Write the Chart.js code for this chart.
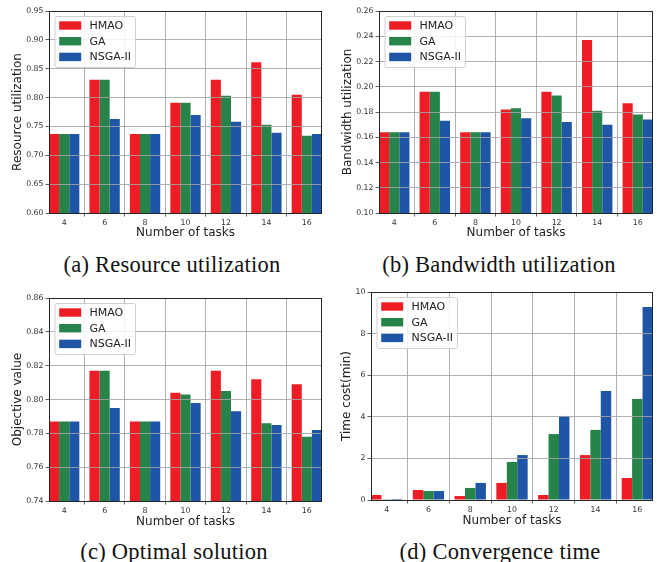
<!DOCTYPE html>
<html><head><meta charset="utf-8">
<script src="https://cdn.jsdelivr.net/npm/chart.js@4.4.1/dist/chart.umd.min.js"></script>
<style>
html,body{margin:0;padding:0;background:#fff;}
body{width:657px;height:562px;position:relative;overflow:hidden;}
canvas{position:absolute;display:block;}
.cap{position:absolute;font-family:"Liberation Serif",serif;font-size:22.5px;line-height:24px;color:#111;white-space:nowrap;transform:translateX(-50%);letter-spacing:0.25px;}
</style></head><body>
<canvas id="ca" width="330" height="245" style="left:0;top:0"></canvas>
<canvas id="cb" width="327" height="245" style="left:330px;top:0"></canvas>
<canvas id="cc" width="330" height="255" style="left:0;top:280px"></canvas>
<canvas id="cd" width="327" height="255" style="left:330px;top:280px"></canvas>
<div class="cap" style="left:172px;top:253px">(a) Resource utilization</div>
<div class="cap" style="left:499px;top:253px">(b) Bandwidth utilization</div>
<div class="cap" style="left:174px;top:540px">(c) Optimal solution</div>
<div class="cap" style="left:500px;top:540px">(d) Convergence time</div>
<script>
// ---- data ----
const categories = [4, 6, 8, 10, 12, 14, 16];
const seriesNames = ['HMAO', 'GA', 'NSGA-II'];
const xTickLabels = ['4', '6', '8', '10', '12', '14', '16'];

const resHMAO = [0.737, 0.831, 0.737, 0.791, 0.831, 0.861, 0.805];
const resGA   = [0.737, 0.831, 0.737, 0.791, 0.803, 0.753, 0.734];
const resNSGA = [0.737, 0.763, 0.737, 0.770, 0.758, 0.739, 0.737];
const resTicks = ['0.60', '0.65', '0.70', '0.75', '0.80', '0.85', '0.90', '0.95'];

const bwHMAO = [0.164, 0.196, 0.164, 0.182, 0.196, 0.237, 0.187];
const bwGA   = [0.164, 0.196, 0.164, 0.183, 0.193, 0.181, 0.178];
const bwNSGA = [0.164, 0.173, 0.164, 0.175, 0.172, 0.170, 0.174];
const bwTicks = ['0.10', '0.12', '0.14', '0.16', '0.18', '0.20', '0.22', '0.24', '0.26'];

const objHMAO = [0.787, 0.817, 0.787, 0.804, 0.817, 0.812, 0.809];
const objGA   = [0.787, 0.817, 0.787, 0.803, 0.805, 0.786, 0.778];
const objNSGA = [0.787, 0.795, 0.787, 0.798, 0.793, 0.785, 0.782];
const objTicks = ['0.74', '0.76', '0.78', '0.80', '0.82', '0.84', '0.86'];

const timeHMAO = [0.24, 0.48, 0.19, 0.82, 0.24, 2.16, 1.06];
const timeGA   = [0.01, 0.43, 0.58, 1.83, 3.17, 3.37, 4.86];
const timeNSGA = [0.05, 0.43, 0.82, 2.16, 4.04, 5.24, 9.28];
const timeTicks = ['0', '2', '4', '6', '8', '10'];

// ---- styles ----
const colors = ['#EE1D25', '#26834A', '#1E55A5'];
const FONT = '"DejaVu Sans", sans-serif';
const gridColor = 'rgba(165,165,165,0.85)';

const frameLegend = {
  id: 'frameLegend',
  afterDraw(chart) {
    const ctx = chart.ctx, a = chart.chartArea;
    ctx.save();
    ctx.strokeStyle = '#262626';
    ctx.lineWidth = 1;
    ctx.strokeRect(Math.round(a.left) + 0.5, Math.round(a.top) + 0.5,
                   Math.round(a.right) - Math.round(a.left) - 1, Math.round(a.bottom) - Math.round(a.top));
    ctx.font = '11px ' + FONT;
    const labels = chart.data.datasets.map(d => d.label);
    const tw = Math.max(...labels.map(l => ctx.measureText(l).width));
    const lx = a.left + 5.5, ly = a.top + 5;
    const w = 35 + tw + 4, h = 51;
    ctx.beginPath();
    ctx.roundRect(lx + 0.5, ly + 0.5, w, h, 2);
    ctx.fillStyle = 'rgba(255,255,255,0.85)';
    ctx.fill();
    ctx.strokeStyle = '#d0d0d0';
    ctx.stroke();
    ctx.textBaseline = 'middle';
    chart.data.datasets.forEach((d, i) => {
      const cy = ly + 9.5 + i * 15.7;
      ctx.fillStyle = d.backgroundColor;
      ctx.fillRect(lx + 4.7, cy - 4.2, 22, 8.4);
      ctx.fillStyle = '#222';
      ctx.fillText(d.label, lx + 35, cy + 0.5);
    });
    ctx.restore();
  }
};

function makeChart(id, series, ticks, yTitle, lay) {
  const yVals = ticks.map(Number);
  new Chart(document.getElementById(id), {
    type: 'bar',
    data: {
      datasets: series.map((vals, i) => ({
        label: seriesNames[i],
        data: categories.map((c, j) => ({ x: c, y: vals[j] })),
        backgroundColor: colors[i],
        borderWidth: 0,
        categoryPercentage: 0.75,
        barPercentage: 1.0
      }))
    },
    options: {
      responsive: false,
      animation: false,
      layout: { padding: { left: 0, top: lay.top, right: lay.right, bottom: 0 } },
      plugins: { legend: { display: false }, tooltip: { enabled: false } },
      scales: {
        x: {
          type: 'linear', min: 3.25, max: 16.75, offset: false,
          afterBuildTicks: s => { s.ticks = categories.map(v => ({ value: v })); },
          afterFit: s => { s.height = lay.xh; },
          ticks: {
            callback: (v) => xTickLabels[categories.indexOf(v)],
            font: { family: FONT, size: 7.8 }, color: '#333', padding: 1.5,
            maxRotation: 0, autoSkip: false
          },
          grid: { color: gridColor, lineWidth: 1, z: 1, tickColor: '#333', tickLength: 3.5, tickWidth: 0.8 },
          border: { display: false },
          title: { display: true, text: 'Number of tasks', color: '#222',
                   font: { family: FONT, size: 12 }, padding: { top: 0, bottom: lay.xtp } }
        },
        y: {
          min: yVals[0], max: yVals[yVals.length - 1],
          afterBuildTicks: s => { s.ticks = yVals.map(v => ({ value: v })); },
          afterFit: s => { s.width = lay.yw; },
          ticks: {
            callback: (v) => ticks[yVals.indexOf(v)],
            font: { family: FONT, size: 7.8 }, color: '#333', padding: 2, autoSkip: false
          },
          grid: { color: gridColor, lineWidth: 1, z: 1, tickColor: '#333', tickLength: 3.5, tickWidth: 0.8 },
          border: { display: false },
          title: { display: true, text: yTitle, color: '#222',
                   font: { family: FONT, size: 12 }, padding: { top: lay.ytp, bottom: 0 } }
        }
      }
    },
    plugins: [frameLegend]
  });
}

makeChart('ca', [resHMAO, resGA, resNSGA], resTicks, 'Resource utilization',
  { top: 11, right: 8, yw: 49, xh: 32, xtp: 4.5, ytp: 10.8 });
makeChart('cb', [bwHMAO, bwGA, bwNSGA], bwTicks, 'Bandwidth utilization',
  { top: 11, right: 4, yw: 49, xh: 32, xtp: 4.5, ytp: 10.8 });
makeChart('cc', [objHMAO, objGA, objNSGA], objTicks, 'Objective value',
  { top: 18, right: 8, yw: 49, xh: 34, xtp: 6.1, ytp: 10.8 });
makeChart('cd', [timeHMAO, timeGA, timeNSGA], timeTicks, 'Time cost(min)',
  { top: 12, right: 4, yw: 41, xh: 35, xtp: 7.1, ytp: 9.5 });
</script>
</body></html>
